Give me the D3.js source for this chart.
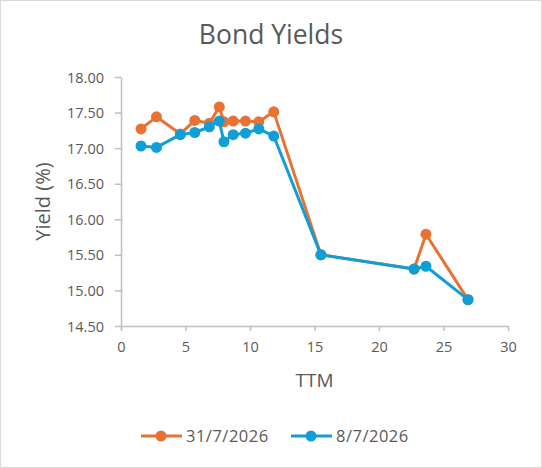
<!DOCTYPE html>
<html>
<head>
<meta charset="utf-8">
<script src="https://cdn.jsdelivr.net/npm/d3@7"></script>
<style>
  body { margin: 0; background: #fff; }
  svg { display: block; font-family: "Open Sans", sans-serif; }
</style>
</head>
<body>
<svg width="542" height="468"></svg>
<script>
// time to maturity (years), same bonds for both dates
const ttm = [1.55, 2.75, 4.6, 5.72, 6.85, 7.62, 7.98, 8.7, 9.65, 10.68, 11.84, 15.5, 22.72, 23.64, 26.9]
const yield3107 = [17.27, 17.44, 17.2, 17.39, 17.35, 17.58, 17.37, 17.38, 17.38, 17.37, 17.51, 15.5, 15.3, 15.79, 14.87]
const yield0807 = [17.03, 17.01, 17.19, 17.22, 17.3, 17.38, 17.09, 17.19, 17.21, 17.27, 17.17, 15.5, 15.3, 15.34, 14.87]
const seriesNames = ['31/7/2026', '8/7/2026']
const xTicks = [0, 5, 10, 15, 20, 25, 30]
const yTicks = [14.5, 15, 15.5, 16, 16.5, 17, 17.5, 18]

const colors = ['#E97132', '#0F9ED5']
const textColor = '#595959'
const axisColor = '#bfbfbf'

const svg = d3.select('svg')
const width = 542
const height = 468
const margin = { top: 77, right: 34, bottom: 142, left: 121 }

svg.append('rect')
  .attr('x', 0.5).attr('y', 0.5)
  .attr('width', width - 1).attr('height', height - 1)
  .attr('fill', '#fff').attr('stroke', '#d9d9d9')

const x = d3.scaleLinear().domain([0, 30]).range([margin.left, width - margin.right])
const y = d3.scaleLinear().domain([14.5, 18]).range([height - margin.bottom, margin.top])

// axes
const xAxis = svg.append('g')
  .attr('transform', `translate(0,${y(14.5)})`)
  .call(d3.axisBottom(x).tickValues(xTicks).tickSize(5).tickSizeOuter(0).tickPadding(8))
const yAxis = svg.append('g')
  .attr('transform', `translate(${x(0)},0)`)
  .call(d3.axisLeft(y).tickValues(yTicks).tickFormat(d3.format('.2f')).tickSize(6).tickSizeOuter(0).tickPadding(11))

;[xAxis, yAxis].forEach((g) => {
  g.select('.domain').attr('stroke', axisColor).attr('stroke-width', 1.5)
  g.selectAll('.tick line').attr('stroke', axisColor).attr('stroke-width', 1.5)
  g.selectAll('.tick text')
    .attr('fill', textColor)
    .style('font-size', '14.5px')
    .style('font-family', '"Open Sans", sans-serif')
})
xAxis.selectAll('.tick text').attr('dy', '0.9em')
yAxis.selectAll('.tick text').attr('dy', '0.35em')

// titles
svg.append('text')
  .attr('x', width / 2).attr('y', 44)
  .attr('text-anchor', 'middle')
  .attr('fill', textColor)
  .style('font-size', '26.5px')
  .text('Bond Yields')

svg.append('text')
  .attr('x', x(15)).attr('y', 387)
  .attr('text-anchor', 'middle')
  .attr('fill', textColor)
  .style('font-size', '19px')
  .text('TTM')

svg.append('text')
  .attr('transform', `translate(50,${(y(14.5) + y(18)) / 2}) rotate(-90)`)
  .attr('text-anchor', 'middle')
  .attr('fill', textColor)
  .style('font-size', '20px')
  .text('Yield (%)')

// series
const series = [yield3107, yield0807].map((vals, i) => ({
  name: seriesNames[i],
  color: colors[i],
  points: ttm.map((t, j) => ({ t, v: vals[j] }))
}))

const line = d3.line().x(d => x(d.t)).y(d => y(d.v))

series.forEach((s) => {
  const g = svg.append('g')
  g.append('path')
    .datum(s.points)
    .attr('d', line)
    .attr('fill', 'none')
    .attr('stroke', s.color)
    .attr('stroke-width', 3)
    .attr('stroke-linejoin', 'round')
  g.selectAll('circle')
    .data(s.points)
    .join('circle')
    .attr('cx', d => x(d.t))
    .attr('cy', d => y(d.v))
    .attr('r', 5.5)
    .attr('fill', s.color)
})

// legend
const legend = svg.append('g').attr('transform', 'translate(0,436)')
const legendX = [141, 291]
series.forEach((s, i) => {
  const lg = legend.append('g').attr('transform', `translate(${legendX[i]},0)`)
  lg.append('line')
    .attr('x1', 0).attr('x2', 41)
    .attr('stroke', s.color).attr('stroke-width', 3)
  lg.append('circle').attr('cx', 20).attr('r', 5.5).attr('fill', s.color)
  lg.append('text')
    .attr('x', 45).attr('dy', '0.35em')
    .attr('fill', textColor)
    .style('font-size', '16.5px')
    .style('letter-spacing', '0.5px')
    .text(s.name)
})
</script>
</body>
</html>
